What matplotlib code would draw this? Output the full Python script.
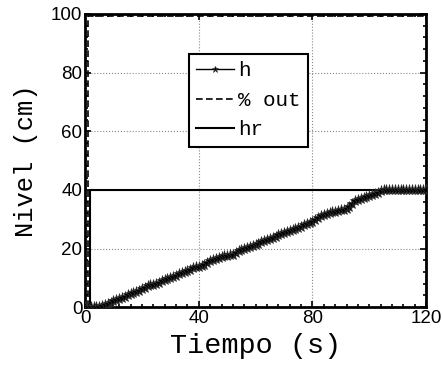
import matplotlib
matplotlib.use("Agg")
import matplotlib.pyplot as plt
from matplotlib.ticker import MultipleLocator

# Data
t_h = list(range(0, 121))
h = [0, 0, 0, 0, 0, 0,
     0.3, 0.8, 1.2, 1.5, 2.0, 2.5, 2.8, 3.1, 3.5, 4.0, 4.5, 4.9, 5.2, 5.6,
     6.1, 6.7, 7.2, 7.4, 7.6, 7.9, 8.3, 8.8, 9.2, 9.5, 9.8, 10.2, 10.8, 11.3,
     11.6, 11.9, 12.2, 12.7, 13.2, 13.6, 13.8, 14.1, 14.5, 15.1, 15.6, 16.0,
     16.4, 16.8, 17.1, 17.3, 17.5, 17.7, 17.9, 18.4, 19.0, 19.5, 19.9, 20.3,
     20.6, 20.9, 21.2, 21.6, 22.1, 22.6, 23.0, 23.3, 23.7, 24.1, 24.5, 24.9,
     25.2, 25.5, 25.9, 26.4, 26.8, 27.1, 27.5, 27.9, 28.3, 28.7, 29.2, 29.8,
     30.4, 31.0, 31.4, 31.7, 32.0, 32.3, 32.6, 32.8, 33.0, 33.2, 33.4, 34.2,
     35.2, 36.1, 36.7, 37.0, 37.3, 37.7, 38.0, 38.2, 38.6, 39.1, 39.6,
     40.0, 40.0, 40.0, 40.0, 40.0, 40.0, 40.0, 40.0, 40.0, 40.0, 40.0, 40.0,
     40.0, 40.0, 40.0, 40.0]
t_out = [1.1, 1.1, 120]
out = [0, 99.4, 99.4]
t_ref = [0, 1.7, 1.7, 120]
hr = [0, 0, 40, 40]

xticks = [0, 40, 80, 120]
yticks = [0, 20, 40, 60, 80, 100]

mono = ['Liberation Mono', 'DejaVu Sans Mono']
sans = ['Liberation Sans', 'DejaVu Sans']

fig = plt.figure(figsize=(4.43, 3.67), dpi=100)
ax = fig.add_axes([0.192, 0.163, 0.770, 0.799])

ax.plot(t_h, h, color='black', linewidth=1.0, marker='*', markersize=8,
        markeredgewidth=0.5, markeredgecolor='#333333', label='h', zorder=4)
ax.plot(t_out, out, color='black', linewidth=1.2, linestyle=(0, (4, 2)),
        label='% out', zorder=3)
ax.plot(t_ref, hr, color='black', linewidth=1.5, label='hr', zorder=3)

ax.set_xlim(0, 120)
ax.set_ylim(0, 100)
ax.set_xticks(xticks)
ax.set_yticks(yticks)
ax.xaxis.set_minor_locator(MultipleLocator(4))
ax.yaxis.set_minor_locator(MultipleLocator(4))
ax.tick_params(which='both', direction='in', top=True, right=True, width=1.2)
ax.tick_params(which='major', length=4, pad=2, labelsize=13.5)
ax.tick_params(which='minor', length=2)
for lab in ax.get_xticklabels() + ax.get_yticklabels():
    lab.set_fontfamily(sans)

ax.grid(True, which='major', color='#888888', linestyle=':', linewidth=0.8)
ax.set_axisbelow(True)
for sp in ax.spines.values():
    sp.set_linewidth(2)

ax.set_xlabel('Tiempo (s)', fontfamily=mono, fontsize=20.5, labelpad=4)
ax.set_ylabel('Nivel (cm)', fontfamily=mono, fontsize=18.4, labelpad=9)

leg = ax.legend(loc='upper left', bbox_to_anchor=(0.305, 0.863),
                prop={'family': mono, 'size': 15}, frameon=True,
                fancybox=False, framealpha=1, edgecolor='black',
                handlelength=1.8, handletextpad=0.2, borderpad=0.35,
                labelspacing=0.5, borderaxespad=0, markerscale=0.6)
leg.get_frame().set_linewidth(1.5)

fig.savefig('out.png', dpi=100)
